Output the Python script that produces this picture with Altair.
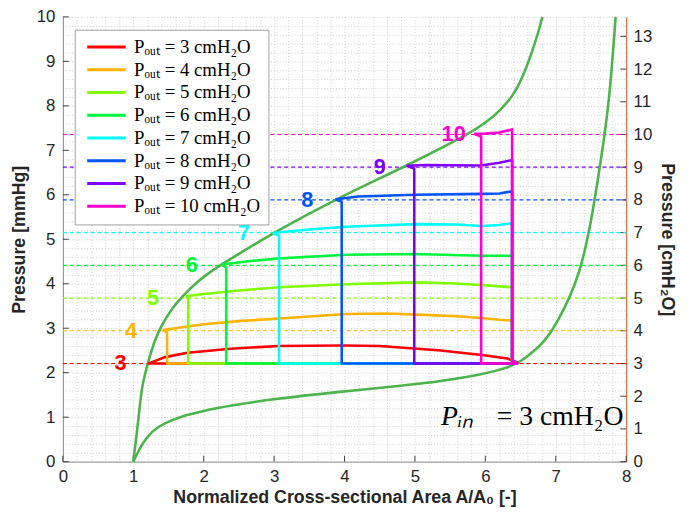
import altair as alt
import pandas as pd

CM_PER_MMHG = 1.3595

# ---------------- data ----------------
P_OUT = [3, 4, 5, 6, 7, 8, 9, 10]                      # cmH2O
COLORS = ["#FF0000", "#FFB300", "#80FF00", "#00F53D",
          "#00FFFF", "#0055FF", "#8000FF", "#FF00CC"]
LEGEND_LABELS = [f"Pₒᵤₜ = {p} cmH₂O" for p in P_OUT]

# tube law (two branches), x = A/A0, y = mmHg
TUBE_UP_X = [1.00, 1.04, 1.08, 1.12, 1.21, 1.31, 1.40, 1.54, 1.70, 1.87, 2.05, 2.25, 2.98, 3.87, 4.88, 5.75, 6.03, 6.22, 6.40, 6.54, 6.66, 6.75, 6.81]
TUBE_UP_Y = [0.00, 0.50, 1.05, 1.69, 2.24, 2.76, 3.06, 3.43, 3.72, 3.99, 4.22, 4.43, 5.14, 5.90, 6.65, 7.35, 7.65, 7.91, 8.24, 8.68, 9.20, 9.64, 10.0]
TUBE_LO_X = [1.00, 1.12, 1.26, 1.45, 1.68, 2.01, 2.38, 2.99, 3.99, 4.44, 5.37, 5.98, 6.31, 6.50, 6.73, 6.92, 7.29, 7.48, 7.66, 7.76, 7.85]
TUBE_LO_Y = [0.00, 0.39, 0.69, 0.87, 1.02, 1.15, 1.26, 1.41, 1.58, 1.65, 1.80, 1.97, 2.11, 2.24, 2.54, 2.83, 3.94, 5.13, 6.98, 8.09, 10.0]

# upper branch of every P_out loop (mmHg)
TOP_X = {
    3: [1.21, 1.45, 1.77, 2.38, 3.06, 3.97, 4.50, 5.37, 5.98, 6.31, 6.45],
    4: [1.42, 2.00, 2.50, 3.08, 4.02, 4.60, 5.14, 5.60, 5.94, 6.20, 6.38],
    5: [1.75, 2.00, 2.50, 3.08, 4.02, 5.00, 5.50, 5.94, 6.20, 6.38],
    6: [2.25, 2.60, 3.08, 4.02, 5.00, 5.94, 6.20, 6.38],
    7: [2.98, 3.50, 4.02, 5.00, 5.60, 5.94, 6.20, 6.38],
    8: [3.87, 4.20, 5.00, 5.94, 6.20, 6.38],
    9: [4.88, 5.14, 5.94, 6.20, 6.38],
    10: [5.84, 6.00, 6.20, 6.38],
}
TOP_Y = {
    3: [2.20, 2.35, 2.45, 2.54, 2.60, 2.61, 2.60, 2.50, 2.39, 2.32, 2.235],
    4: [2.96, 3.09, 3.16, 3.22, 3.32, 3.33, 3.30, 3.27, 3.23, 3.19, 3.17],
    5: [3.72, 3.77, 3.85, 3.92, 3.99, 4.03, 4.01, 3.97, 3.94, 3.92],
    6: [4.43, 4.50, 4.57, 4.65, 4.67, 4.63, 4.63, 4.63],
    7: [5.14, 5.22, 5.28, 5.34, 5.33, 5.30, 5.32, 5.36],
    8: [5.90, 5.96, 6.00, 6.02, 6.03, 6.08],
    9: [6.65, 6.67, 6.66, 6.72, 6.78],
    10: [7.37, 7.38, 7.40, 7.47],
}
LEFT_X = {3: 1.21, 4: 1.48, 5: 1.78, 6: 2.32, 7: 3.07, 8: 3.96, 9: 4.99, 10: 5.94}
RIGHT_X = 6.38
END_X = 6.45
BASE_Y = 2.205

LABEL_X = [0.82, 0.97, 1.28, 1.83, 2.57, 3.47, 4.50, 5.55]

X_TICKS = list(range(0, 9))
Y_TICKS = list(range(0, 11))
CM_TICKS = list(range(0, 14))

W, H = 570, 450

# ---------------- tables ----------------
tube_df = pd.DataFrame(
    [{"x": x, "y": y, "b": "up"} for x, y in zip(TUBE_UP_X, TUBE_UP_Y)]
    + [{"x": x, "y": y, "b": "lo"} for x, y in zip(TUBE_LO_X, TUBE_LO_Y)]
)

rows = []
for p, lab in zip(P_OUT, LEGEND_LABELS):
    pts = list(zip(TOP_X[p], TOP_Y[p]))
    xc, yc = pts[0]
    if p > 3:
        pts += [(RIGHT_X, 2.27), (END_X, BASE_Y), (LEFT_X[p], BASE_Y),
                (LEFT_X[p], yc - 0.06), (xc, yc)]
    else:
        pts += [(END_X, BASE_Y), (xc, BASE_Y)]
    for i, (x, y) in enumerate(pts):
        rows.append({"x": x, "y": y, "s": lab, "o": i})
loop_df = pd.DataFrame(rows)

dash_df = pd.DataFrame({"y": [p / CM_PER_MMHG for p in P_OUT],
                        "x0": 0, "x1": 8, "c": COLORS})
num_df = pd.DataFrame({"x": LABEL_X, "y": [p / CM_PER_MMHG for p in P_OUT],
                       "t": [str(p) for p in P_OUT], "c": COLORS})
xt_df = pd.DataFrame({"x": X_TICKS})
yt_df = pd.DataFrame({"y": Y_TICKS})
ct_df = pd.DataFrame({"y": [c / CM_PER_MMHG for c in CM_TICKS]})

pin_df1 = pd.DataFrame({"x": [5.37], "y": [0.83], "t": ["Pᵢₙ"]})
pin_df2 = pd.DataFrame({"x": [7.96], "y": [0.83], "t": ["= 3 cmH₂O"]})

# ---------------- scales & axes ----------------
xs = alt.Scale(domain=[0, 8], nice=False, zero=False)
ys = alt.Scale(domain=[0, 10], nice=False, zero=False)

SANS = "Liberation Sans"
SERIF = "Liberation Serif"

xaxis = alt.Axis(
    values=[round(i * 0.2, 1) for i in range(41)],
    labelExpr="datum.value % 1 == 0 ? format(datum.value, 'd') : ''",
    labelOverlap=False, labelFlush=False,
    grid=True, gridColor="#cfcfcf", gridDash=[1, 2], gridWidth=1,
    ticks=False, domainColor="#8c8c8c", domainWidth=1,
    labelFont=SANS, labelFontSize=17, labelColor="#262626", labelPadding=7,
    title="Normalized Cross-sectional Area A/A₀ [-]",
    titleFont=SANS, titleFontSize=18, titleFontWeight="bold",
    titleColor="#262626", titlePadding=4,
)
yaxis_left = alt.Axis(
    orient="left",
    values=[round(i * 0.2, 1) for i in range(51)],
    labelExpr="datum.value % 1 == 0 ? format(datum.value, 'd') : ''",
    labelOverlap=False, labelFlush=False,
    grid=True, gridColor="#cfcfcf", gridDash=[1, 2], gridWidth=1,
    ticks=False, domainColor="#8c8c8c", domainWidth=1,
    labelFont=SANS, labelFontSize=17, labelColor="#262626", labelPadding=8,
    title="Pressure [mmHg]",
    titleFont=SANS, titleFontSize=18, titleFontWeight="bold",
    titleColor="#262626", titlePadding=8,
)
yaxis_right = alt.Axis(
    orient="right",
    values=[c / CM_PER_MMHG for c in CM_TICKS],
    labelExpr="format(round(datum.value * 1.3595), 'd')",
    labelOverlap=False, labelFlush=False,
    grid=False, ticks=False, domainColor="#D95319", domainWidth=1,
    labelFont=SANS, labelFontSize=17, labelColor="#262626", labelPadding=7,
    title="Pressure [cmH₂O]",
    titleFont=SANS, titleFontSize=18, titleFontWeight="bold",
    titleColor="#262626", titlePadding=6,
)

# ---------------- layers ----------------
axis_left_layer = alt.Chart(yt_df).mark_rule(color="#404040", strokeWidth=1).encode(
    y=alt.Y("y:Q", scale=ys, axis=yaxis_left),
    x=alt.value(0), x2=alt.value(6),
)
axis_right_layer = alt.Chart(ct_df).mark_rule(color="#404040", strokeWidth=1).encode(
    y=alt.Y("y:Q", scale=ys, axis=yaxis_right),
    x=alt.value(W), x2=alt.value(W - 6),
)
bottom_ticks = alt.Chart(xt_df).mark_rule(color="#404040", strokeWidth=1).encode(
    x=alt.X("x:Q", scale=xs, axis=xaxis),
    y=alt.value(H), y2=alt.value(H - 6),
)

dashes = alt.Chart(dash_df).mark_rule(strokeDash=[4, 3], strokeWidth=1.2).encode(
    y=alt.Y("y:Q", scale=ys, axis=None),
    x=alt.X("x0:Q", scale=xs, axis=xaxis), x2="x1:Q",
    color=alt.Color("c:N", scale=None),
)

tube = alt.Chart(tube_df).mark_line(color="#4DB34D", strokeWidth=2.6,
                                    interpolate="basis").encode(
    x=alt.X("x:Q", scale=xs, axis=xaxis),
    y=alt.Y("y:Q", scale=ys, axis=None),
    detail="b:N",
)

loops = alt.Chart(loop_df).mark_line(strokeWidth=2.6, strokeJoin="round").encode(
    x=alt.X("x:Q", scale=xs, axis=xaxis),
    y=alt.Y("y:Q", scale=ys, axis=None),
    order="o:Q",
    color=alt.Color(
        "s:N",
        scale=alt.Scale(domain=LEGEND_LABELS, range=COLORS),
        legend=alt.Legend(
            orient="none", legendX=12, legendY=13, title=None,
            symbolType="M-1,0H7", symbolSize=95, symbolStrokeWidth=3,
            labelFont=SERIF, labelFontSize=19, labelColor="#000000",
            labelOffset=33, labelLimit=0, padding=8, rowPadding=3,
            strokeColor="#a0a0a0", fillColor="#ffffff",
        ),
    ),
)

numbers = alt.Chart(num_df).mark_text(font=SANS, fontSize=22, fontWeight="bold",
                                      align="center", baseline="middle").encode(
    x=alt.X("x:Q", scale=xs, axis=xaxis),
    y=alt.Y("y:Q", scale=ys, axis=None),
    text="t:N",
    color=alt.Color("c:N", scale=None),
)

pin1 = alt.Chart(pin_df1).mark_text(font=SERIF, fontSize=28, fontStyle="italic",
                                    align="left", baseline="alphabetic",
                                    color="#000000").encode(
    x=alt.X("x:Q", scale=xs, axis=xaxis),
    y=alt.Y("y:Q", scale=ys, axis=None),
    text="t:N",
)
pin2 = alt.Chart(pin_df2).mark_text(font=SERIF, fontSize=28,
                                    align="right", baseline="alphabetic",
                                    color="#000000").encode(
    x=alt.X("x:Q", scale=xs, axis=xaxis),
    y=alt.Y("y:Q", scale=ys, axis=None),
    text="t:N",
)

chart = alt.layer(
    axis_left_layer, axis_right_layer, bottom_ticks,
    dashes, tube, loops, numbers, pin1, pin2,
).resolve_axis(y="independent").properties(
    width=W, height=H,
    autosize=alt.AutoSizeParams(type="none"),
    padding={"left": 55.5, "top": 6, "right": 59.5, "bottom": 51},
    background="#ffffff",
).configure_view(strokeWidth=0)

chart.save("out.html", embed_options={"renderer": "svg", "actions": False})
